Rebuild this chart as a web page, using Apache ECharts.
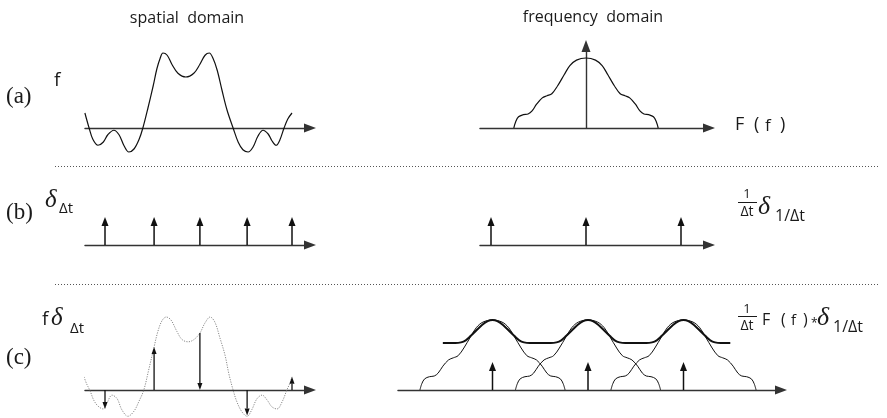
<!DOCTYPE html>
<html>
<head>
<meta charset="utf-8">
<script src="https://cdn.jsdelivr.net/npm/echarts@6/dist/echarts.min.js"></script>
<style>
  html, body { margin: 0; padding: 0; background: #fff; }
  #chart { width: 887px; height: 418px; }
</style>
</head>
<body>
<div id="chart"></div>
<script>
// Continuous signal f(t); t measured in sampling steps Δt.
const signalA = [[-0.43,0.2],[-0.34,0],[-0.26,-0.15],[-0.15,-0.23],[-0.04,-0.19],[0.06,-0.09],[0.19,-0.03],[0.3,-0.09],[0.41,-0.24],[0.51,-0.32],[0.62,-0.28],[0.73,-0.15],[0.81,0],[0.92,0.27],[1.03,0.56],[1.11,0.79],[1.18,0.93],[1.24,1.0],[1.33,0.97],[1.43,0.85],[1.56,0.73],[1.73,0.68],[1.9,0.73],[2.03,0.85],[2.14,0.97],[2.23,1.0],[2.31,0.93],[2.4,0.77],[2.5,0.51],[2.61,0.24],[2.74,0],[2.85,-0.19],[2.95,-0.29],[3.06,-0.32],[3.17,-0.25],[3.27,-0.11],[3.38,-0.03],[3.49,-0.08],[3.57,-0.17],[3.66,-0.23],[3.74,-0.16],[3.83,0],[3.91,0.12],[4.0,0.2]];

// Same signal as drawn behind the sampled values in row (c).
const signalC = [[-0.45,0.18],[-0.39,0.08],[-0.32,-0.01],[-0.24,-0.14],[-0.15,-0.22],[-0.04,-0.26],[0.04,-0.18],[0.15,-0.07],[0.26,-0.12],[0.36,-0.27],[0.49,-0.36],[0.62,-0.29],[0.73,-0.15],[0.83,0],[0.94,0.29],[1.05,0.59],[1.13,0.8],[1.22,0.95],[1.31,1.0],[1.41,0.96],[1.54,0.8],[1.65,0.69],[1.78,0.66],[1.9,0.69],[2.03,0.78],[2.14,0.92],[2.25,1.0],[2.35,0.93],[2.46,0.71],[2.57,0.47],[2.65,0.22],[2.74,0],[2.82,-0.16],[2.93,-0.3],[3.04,-0.36],[3.14,-0.27],[3.25,-0.12],[3.36,-0.07],[3.47,-0.14],[3.57,-0.23],[3.68,-0.26],[3.79,-0.16],[3.89,0],[3.96,0.1],[4.0,0.18]];

// Sampling instants of the Dirac comb δ_Δt.
const sampleTimes = [0, 1.05, 2.03, 3.04, 4.0];
const combHeightSpatial = 1;
// Sampled values f(kΔt) and which arrows run from the curve down to the axis.
const sampleValuesC = [-0.26, 0.59, 0.78, -0.35, 0.18];
const sampleToAxisC = [false, false, true, false, false];

// Spectrum F(f); f measured in units of 1/Δt.
const spectrumF = [[-0.76,0],[-0.74,0.09],[-0.71,0.16],[-0.66,0.19],[-0.61,0.2],[-0.57,0.24],[-0.52,0.34],[-0.46,0.43],[-0.41,0.46],[-0.36,0.49],[-0.3,0.6],[-0.23,0.76],[-0.17,0.89],[-0.1,0.97],[0,1],[0.1,0.97],[0.17,0.89],[0.23,0.76],[0.3,0.6],[0.36,0.49],[0.41,0.46],[0.46,0.43],[0.52,0.34],[0.57,0.24],[0.61,0.2],[0.66,0.19],[0.71,0.16],[0.74,0.09],[0.76,0]];

// Comb δ_1/Δt in the frequency domain and its drawn heights.
const combFreqs = [-1, 0, 1];
const combHeightFreqB = 1;
const combHeightFreqC = 0.4;

// Periodic spectrum outline (thick curve) in row (c).
const periodicEnvelope = [[-1.52,0.67],[-1.39,0.67],[-1.33,0.68],[-1.28,0.71],[-1.23,0.77],[-1.17,0.85],[-1.11,0.93],[-1.05,0.985],[-1.0,1.0],[-0.95,0.985],[-0.89,0.93],[-0.83,0.85],[-0.77,0.77],[-0.72,0.71],[-0.67,0.68],[-0.61,0.67],[-0.39,0.67],[-0.33,0.68],[-0.28,0.71],[-0.23,0.77],[-0.17,0.85],[-0.11,0.93],[-0.05,0.985],[0,1.0],[0.05,0.985],[0.11,0.93],[0.17,0.85],[0.23,0.77],[0.28,0.71],[0.33,0.68],[0.39,0.67],[0.61,0.67],[0.67,0.68],[0.72,0.71],[0.77,0.77],[0.83,0.85],[0.89,0.93],[0.95,0.985],[1.0,1.0],[1.05,0.985],[1.11,0.93],[1.17,0.85],[1.23,0.77],[1.28,0.71],[1.33,0.68],[1.39,0.67],[1.49,0.67]];

const INK = '#111';
const AXIS = '#333';
const SANS = '"Open Sans", sans-serif';
const SERIF = '"Liberation Serif", serif';

// Panel layout: origin in px, px per unit, and visible ranges.
function box(x0, ux, xr, y0, uy, yr) {
  return {
    left: x0 + xr[0] * ux, width: (xr[1] - xr[0]) * ux,
    top: y0 - yr[1] * uy, height: (yr[1] - yr[0]) * uy
  };
}
const panels = [
  { x0: 105, ux: 46.75, xr: [-0.428, 4.385], y0: 128, uy: 75, yr: [-0.45, 1.15] },   // (a) spatial
  { x0: 586, ux: 95,    xr: [-1.116, 1.295], y0: 128, uy: 70, yr: [0, 1.171], yAxisVisible: true }, // (a) frequency
  { x0: 105, ux: 46.75, xr: [-0.428, 4.385], y0: 245, uy: 28, yr: [-0.5, 1.4] },    // (b) spatial
  { x0: 586, ux: 95,    xr: [-1.116, 1.295], y0: 245, uy: 28, yr: [-0.5, 1.4] },    // (b) frequency
  { x0: 105, ux: 46.75, xr: [-0.428, 4.385], y0: 390, uy: 73, yr: [-0.38, 1.1] },   // (c) spatial
  { x0: 588, ux: 95.5,  xr: [-1.99, 2.021],  y0: 390, uy: 70, yr: [-0.3, 1.2] }     // (c) frequency
];

const axisLineStyle = { color: AXIS, width: 1.4 };
const grid = panels.map(p => Object.assign(box(p.x0, p.ux, p.xr, p.y0, p.uy, p.yr), { containLabel: false }));
const xAxis = panels.map((p, i) => ({
  gridIndex: i, type: 'value', min: p.xr[0], max: p.xr[1],
  axisLine: { show: true, onZero: true, symbol: ['none', 'triangle'], symbolSize: [9, 12], lineStyle: axisLineStyle },
  axisTick: { show: false }, axisLabel: { show: false }, splitLine: { show: false }
}));
const yAxis = panels.map((p, i) => ({
  gridIndex: i, type: 'value', min: p.yr[0], max: p.yr[1],
  axisLine: p.yAxisVisible
    ? { show: true, onZero: true, symbol: ['none', 'triangle'], symbolSize: [9, 12], lineStyle: axisLineStyle }
    : { show: false },
  axisTick: { show: false }, axisLabel: { show: false }, splitLine: { show: false }
}));

function curve(idx, data, style, smooth) {
  return {
    type: 'line', xAxisIndex: idx, yAxisIndex: idx, data: data,
    smooth: smooth == null ? 0.35 : smooth, showSymbol: false, silent: true, animation: false, z: 3,
    lineStyle: Object.assign({ color: INK, width: 1.2 }, style || {})
  };
}

// Arrow stems: each datum is [x, from, to]; the head sits at "to".
function stems(idx, data, head) {
  return {
    type: 'custom', xAxisIndex: idx, yAxisIndex: idx, data: data,
    clip: false, silent: true, animation: false, z: 4,
    encode: { x: 0, y: [1, 2] },
    renderItem: function (params, api) {
      const x = api.value(0);
      const p0 = api.coord([x, api.value(1)]);
      const p1 = api.coord([x, api.value(2)]);
      const dir = p1[1] >= p0[1] ? 1 : -1;
      const base = p1[1] - dir * head.len;
      return {
        type: 'group',
        children: [
          { type: 'line', shape: { x1: p0[0], y1: p0[1], x2: p1[0], y2: base },
            style: { stroke: INK, lineWidth: head.lw } },
          { type: 'polygon',
            shape: { points: [[p1[0], p1[1]], [p1[0] - head.w / 2, base], [p1[0] + head.w / 2, base]] },
            style: { fill: INK } }
        ]
      };
    }
  };
}

const bigHead = { w: 7, len: 9, lw: 1.5 };
const smallHead = { w: 5, len: 7, lw: 1.3 };

const series = [
  curve(0, signalA),
  curve(1, spectrumF),
  stems(2, sampleTimes.map(t => [t, 0, combHeightSpatial]), bigHead),
  stems(3, combFreqs.map(f => [f, 0, combHeightFreqB]), bigHead),
  curve(4, signalC, { color: '#888', width: 1, type: [1.2, 1.3] }),
  stems(4, sampleTimes.map((t, i) => sampleToAxisC[i] ? [t, sampleValuesC[i], 0] : [t, 0, sampleValuesC[i]]), smallHead)
];
combFreqs.forEach(c => series.push(curve(5, spectrumF.map(d => [d[0] + c, d[1]]), { width: 1 })));
series.push(curve(5, periodicEnvelope, { width: 2 }, 0.3));
series.push(stems(5, combFreqs.map(f => [f, 0, combHeightFreqC]), bigHead));

// Text annotations.
function txt(x, y, text, font, size, align, extra) {
  return {
    type: 'text', x: x, y: y, silent: true, z: 10,
    style: Object.assign({ text: text, fontFamily: font, fontSize: size, fill: '#1a1a1a',
      textAlign: align || 'left', textVerticalAlign: 'middle' }, extra || {})
  };
}
function rule(x1, y1, x2, y2, extra) {
  return { type: 'line', silent: true, z: 10,
    shape: { x1: x1, y1: y1, x2: x2, y2: y2 },
    style: Object.assign({ stroke: '#1a1a1a', lineWidth: 1 }, extra || {}) };
}
const italic = { fontStyle: 'italic' };

const graphic = [
  txt(187, 18, 'spatial  domain', SANS, 16, 'center'),
  txt(593, 17, 'frequency  domain', SANS, 16, 'center'),
  // row (a)
  txt(6, 97, '(a)', SERIF, 23),
  txt(54, 81, 'f', SANS, 19),
  txt(735, 125, 'F', SANS, 18),
  txt(754, 125, '(', SANS, 18),
  txt(765, 126, 'f', SANS, 17),
  txt(780, 125, ')', SANS, 18),
  // row (b)
  txt(6, 213, '(b)', SERIF, 23),
  txt(45, 200, 'δ', SERIF, 25, 'left', italic),
  txt(59, 209, 'Δt', SANS, 15),
  txt(747, 194, '1', SANS, 13, 'center'),
  rule(738, 202.5, 757, 202.5),
  txt(747, 212, 'Δt', SANS, 14, 'center'),
  txt(758, 207, 'δ', SERIF, 26, 'left', italic),
  txt(775, 216, '1/Δt', SANS, 16),
  // row (c)
  txt(42, 320, 'f', SANS, 19),
  txt(6, 358, '(c)', SERIF, 23),
  txt(51, 318, 'δ', SERIF, 25, 'left', italic),
  txt(70, 329, 'Δt', SANS, 15),
  txt(747, 309, '1', SANS, 13, 'center'),
  rule(738, 316.5, 757, 316.5),
  txt(747, 326, 'Δt', SANS, 14, 'center'),
  txt(762, 320, 'F', SANS, 16),
  txt(781, 320, '(', SANS, 16),
  txt(791, 321, 'f', SANS, 15),
  txt(803, 320, ')', SANS, 16),
  txt(811, 324, '*', SANS, 12),
  txt(817, 318, 'δ', SERIF, 26, 'left', italic),
  txt(833, 327, '1/Δt', SANS, 16),
  // dotted separators between rows
  rule(55, 166.5, 880, 166.5, { stroke: '#555', lineDash: [1, 2] }),
  rule(55, 284.5, 880, 284.5, { stroke: '#555', lineDash: [1, 2] })
];

const chart = echarts.init(document.getElementById('chart'), null, { renderer: 'canvas' });
chart.setOption({
  backgroundColor: '#fff',
  animation: false,
  grid: grid, xAxis: xAxis, yAxis: yAxis,
  series: series,
  graphic: graphic
});
</script>
</body>
</html>
